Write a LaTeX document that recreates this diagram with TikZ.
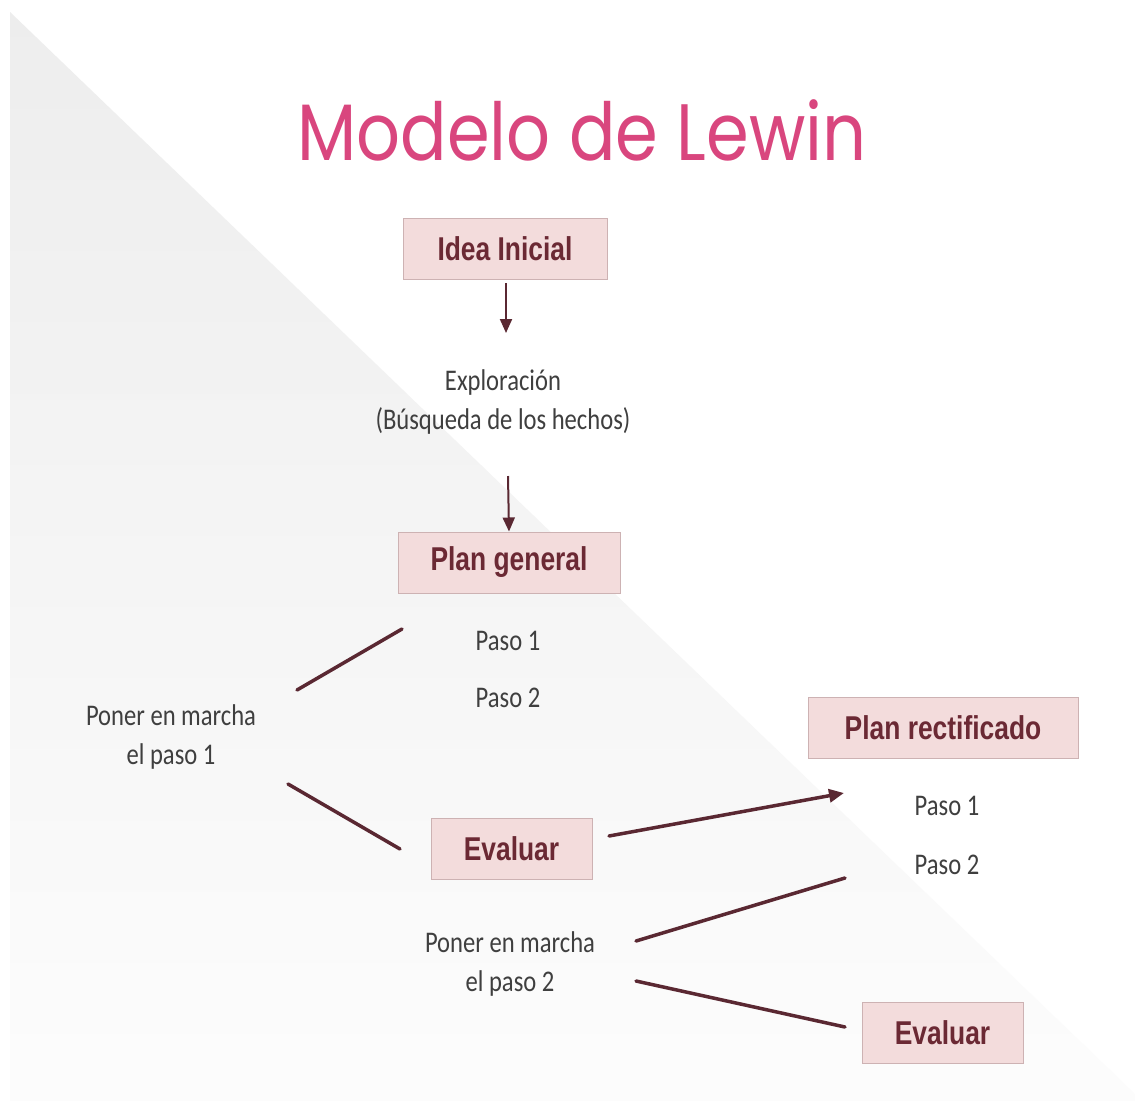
\documentclass[tikz,border=0pt]{standalone}
\usepackage{fontspec}
\usetikzlibrary{arrows.meta}
\newfontfamily\titlefont[FakeStretch=0.86]{Poppins}
\newfontfamily\boxfont[FakeStretch=0.80]{Liberation Sans}
\newfontfamily\bodyfont[FakeStretch=0.82]{Carlito}
\definecolor{titlepink}{HTML}{D9467E}
\definecolor{boxfill}{HTML}{F3DCDC}
\definecolor{boxline}{HTML}{CDB2B3}
\definecolor{boxtext}{HTML}{6B2934}
\definecolor{linecol}{HTML}{5A2832}
\definecolor{bodytext}{HTML}{3F3F3F}
\begin{document}
\begin{tikzpicture}[x=1pt,y=-1pt,
  stagebox/.style={draw=boxline, line width=1pt, fill=boxfill, text=boxtext,
    font=\boxfont\bfseries\fontsize{33}{38}\selectfont, minimum height=61pt, inner sep=0pt},
  bodytxt/.style={text=bodytext, font=\bodyfont\fontsize{30}{39}\selectfont, align=center, inner sep=0pt},
  arrowline/.style={draw=linecol, line width=2pt, -{Triangle[length=14pt,width=12pt]}},
  slantline/.style={draw=linecol, line width=3.5pt, line cap=round},
  slantarrow/.style={draw=linecol, line width=3.5pt, line cap=round, -{Triangle[length=15pt,width=13pt]}}
]
\useasboundingbox (0,0) rectangle (1135,1101);
\fill[white] (0,0) rectangle (1135,1101);
\shade[shading angle=-45, top color=black!7, bottom color=black!1]
  (10,12) -- (1135,1094) -- (1135,1101) -- (10,1101) -- cycle;

\node[text=titlepink, font=\titlefont\fontsize{80}{90}\selectfont, inner sep=0pt]
  (title) at (582,130) {Modelo de Lewin};

\node[stagebox, minimum width=204pt] (idea) at (505,248.5) {Idea Inicial};
\node[bodytxt] (explor) at (503,402) {Exploración\\(Búsqueda de los hechos)};
\node[stagebox, minimum width=222pt] (plang) at (509,562.5) {Plan general};
\node[bodytxt] (paso1a) at (508,641) {Paso 1};
\node[bodytxt] (paso2a) at (508,698) {Paso 2};
\node[bodytxt] (poner1) at (171,737) {Poner en marcha\\el paso 1};
\node[stagebox, minimum width=161pt] (eval1) at (511.5,848.5) {Evaluar};
\node[stagebox, minimum width=270pt] (planr) at (943,727.5) {Plan rectificado};
\node[bodytxt] (paso1b) at (947,806) {Paso 1};
\node[bodytxt] (paso2b) at (947,865) {Paso 2};
\node[bodytxt] (poner2) at (510,964) {Poner en marcha\\el paso 2};
\node[stagebox, minimum width=161pt] (eval2) at (942.5,1032.5) {Evaluar};

\coordinate (a1s) at (506,283);
\coordinate (a1e) at (506,333);
\coordinate (a2s) at (508,476);
\coordinate (l1s) at (402,629);
\coordinate (l1e) at (297,690);
\coordinate (l2s) at (288,784);
\coordinate (l2e) at (400,849);
\coordinate (a3s) at (609,836);
\coordinate (a3e) at (844,793);
\coordinate (l3s) at (636,941);
\coordinate (l3e) at (845,878);
\coordinate (l4s) at (636,981);
\coordinate (l4e) at (845,1027);

\draw[arrowline] (a1s) -- (a1e);
\draw[arrowline] (a2s) -- (plang.north);
\draw[slantline] (l1s) -- (l1e);
\draw[slantline] (l2s) -- (l2e);
\draw[slantarrow] (a3s) -- (a3e);
\draw[slantline] (l3s) -- (l3e);
\draw[slantline] (l4s) -- (l4e);
\end{tikzpicture}
\end{document}
